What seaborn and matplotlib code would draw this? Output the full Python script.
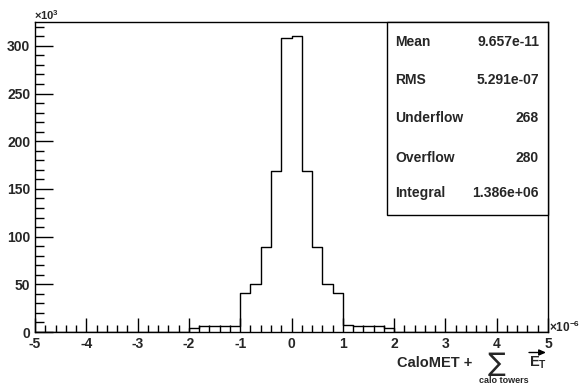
import numpy as np
import pandas as pd
import matplotlib
matplotlib.use("Agg")
import matplotlib.pyplot as plt
from matplotlib.ticker import MultipleLocator, FuncFormatter
from matplotlib.patches import Rectangle, FancyArrowPatch
import seaborn as sns

# Histogram binning (x in units of 1e-6)
x_min, x_max, n_bins = -5.0, 5.0, 50
# Bin contents (entries) for the populated range -2 .. 2, all other bins empty
core_lo, core_hi = -2.0, 2.0
core_counts = [3700, 6800, 6800, 6800, 6800,
               40600, 50400, 88900, 169300, 308200,
               310200, 169300, 88900, 50400, 40600,
               7000, 6800, 6800, 6800, 3900]

# Statistics box
stat_names = ["Mean", "RMS", "Underflow", "Overflow", "Integral"]
stat_values = ["9.657e-11", "5.291e-07", "268", "280", "1.386e+06"]

sns.set_theme(style="white")
plt.rcParams["font.family"] = ["Liberation Sans", "DejaVu Sans"]
plt.rcParams["font.weight"] = "bold"
plt.rcParams["axes.unicode_minus"] = False
plt.rcParams["mathtext.fontset"] = "custom"
plt.rcParams["mathtext.rm"] = "Liberation Sans:bold"
plt.rcParams["mathtext.it"] = "Liberation Sans:bold"
plt.rcParams["mathtext.bf"] = "Liberation Sans:bold"

W, H = 581, 385
fig = plt.figure(figsize=(W / 100, H / 100), dpi=100)
fig.patch.set_facecolor("white")
L, R, T, B = 35, 548, 22, 332
ax = fig.add_axes([L / W, 1 - B / H, (R - L) / W, (B - T) / H])
ax.set_facecolor("white")

edges = np.linspace(x_min, x_max, n_bins + 1)
centers = 0.5 * (edges[:-1] + edges[1:])
counts = np.zeros(n_bins)
first = int(round((core_lo - x_min) / (edges[1] - edges[0])))
counts[first:first + len(core_counts)] = core_counts
hist_df = pd.DataFrame({"met": centers, "entries": counts})

sns.histplot(data=hist_df, x="met", weights="entries", bins=list(edges),
             element="step", fill=False, color="black", linewidth=1.0, ax=ax)

ax.set_xlim(x_min, x_max)
ax.set_ylim(0, 325000)
ax.set_xlabel("")
ax.set_ylabel("")

ax.xaxis.set_major_locator(MultipleLocator(1))
ax.xaxis.set_minor_locator(MultipleLocator(0.2))
ax.yaxis.set_major_locator(MultipleLocator(50000))
ax.yaxis.set_minor_locator(MultipleLocator(10000))
ax.xaxis.set_major_formatter(FuncFormatter(lambda v, p: f"{v:g}"))
ax.yaxis.set_major_formatter(FuncFormatter(lambda v, p: f"{v / 1000:g}"))

ax.tick_params(axis="both", which="both", direction="in", color="black",
               bottom=True, left=True, top=False, right=False)
ax.tick_params(axis="x", which="major", length=10, width=1, pad=3.5, labelsize=10)
ax.tick_params(axis="x", which="minor", length=5, width=1)
ax.tick_params(axis="y", which="major", length=13, width=1, pad=3.5, labelsize=10)
ax.tick_params(axis="y", which="minor", length=6.5, width=1)
for lab in ax.get_xticklabels() + ax.get_yticklabels():
    lab.set_fontweight("bold")

for s in ax.spines.values():
    s.set_visible(True)
    s.set_color("black")
    s.set_linewidth(1.0)

# Statistics box
bx0, bx1, by0, by1 = 387, 548, 22, 215
ax.add_patch(Rectangle(((bx0 - L) / (R - L), (B - by1) / (B - T)),
                       (bx1 - bx0) / (R - L), (by1 - by0) / (B - T),
                       transform=ax.transAxes, facecolor="white",
                       edgecolor="black", linewidth=1.0, zorder=5, clip_on=False))
row_y = [41.7, 80, 118.3, 157.7, 193.3]
for name, val, yy in zip(stat_names, stat_values, row_y):
    fig.text(395 / W, 1 - yy / H, name, ha="left", va="center",
             fontsize=10, fontweight="bold", zorder=6)
    fig.text(539 / W, 1 - yy / H, val, ha="right", va="center",
             fontsize=10, fontweight="bold", zorder=6)


def px(x, y):
    return x / W, 1 - y / H


# Axis exponents
fig.text(*px(34, 20), r"$\times10^{3}$", ha="left", va="baseline", fontsize=8)
fig.text(*px(549, 332.5), r"$\times10^{-6}$", ha="left", va="baseline", fontsize=8.5)

# X axis title: CaloMET + sum over calo towers of E_T
fig.text(*px(397, 367), "CaloMET +", ha="left", va="baseline",
         fontsize=10.5, fontweight="bold")
fig.text(*px(497, 364), "\u2211", ha="center", va="center",
         fontsize=19, fontweight="normal", family=["DejaVu Sans"])
fig.text(*px(504, 380.5), "calo towers", ha="center", va="center",
         fontsize=6.5, fontweight="bold")
fig.text(*px(529, 367), r"$\mathrm{E}_{\mathrm{T}}$", ha="left", va="baseline",
         fontsize=10.5)
fig.add_artist(FancyArrowPatch(
    px(529, 352.5), px(546, 352.5), transform=fig.transFigure,
    arrowstyle="-|>,head_length=4,head_width=1.8", color="black",
    linewidth=1.0, mutation_scale=1, shrinkA=0, shrinkB=0))

fig.savefig("out.png", dpi=100, facecolor="white")
